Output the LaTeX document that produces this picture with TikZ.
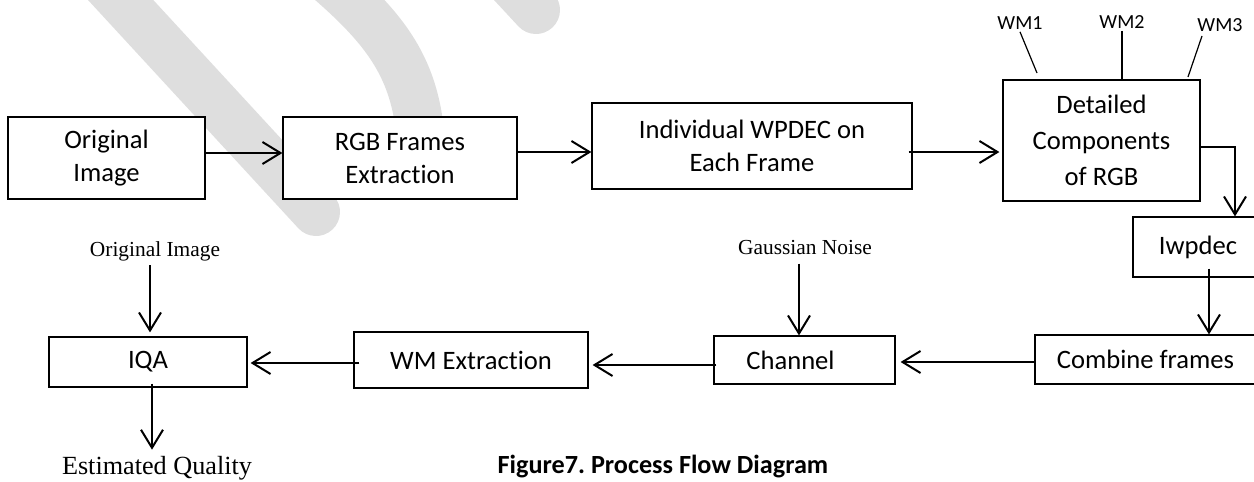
\documentclass[tikz,border=0pt]{standalone}
\usepackage{fontspec}
\setmainfont{Carlito}[Ligatures=CommonOff]
\newfontfamily\tnr{Liberation Serif}
\usetikzlibrary{arrows.meta}
\definecolor{wmgray}{RGB}{222,222,222}
\frenchspacing
\begin{document}
\begin{tikzpicture}[x=0.5pt,y=-0.5pt,
  box/.style={draw, line width=0.6pt, fill=white, inner sep=0pt, align=center,
    font=\fontsize{13.3}{16.5}\selectfont},
  arr/.style={line width=1pt, -{Straight Barb[length=9pt,width=11pt,line width=1pt]}},
  wmline/.style={line width=0.6pt},
  wmlab/.style={inner sep=0pt, font=\fontsize{10}{12}\selectfont},
  serif/.style={inner sep=0pt, font=\tnr\fontsize{10.7}{13}\selectfont},
  stripe/.style={draw=wmgray, line width=24pt, line cap=round}]
\useasboundingbox (0,0) rectangle (1254,482);
\begin{scope}
\clip (0,0) rectangle (1254,482);
% background watermark stripes
\draw[stripe] (93,-30) -- (316,212);
\draw[stripe] (305,-40) .. controls (390,30) and (422,70) .. (422,170);
\draw[stripe] (485,-45) -- (536,10);

% boxes
\node[box, minimum width=98.5pt, minimum height=41pt] (orig) at (106.5,158) {Original\\Image};
\node[box, minimum width=117pt, minimum height=41pt] (rgb) at (400,158) {RGB Frames\\Extraction};
\node[box, minimum width=160pt, minimum height=43pt] (wpd) at (752,146) {Individual WPDEC on\\Each Frame};
\node[box, minimum width=98.5pt, minimum height=60.5pt, font=\fontsize{13.3}{18}\selectfont] (det) at (1101.5,140.5) {Detailed\\Components\\of RGB};
\node[box, minimum width=65pt, minimum height=30pt] (iwp) at (1198,247) {Iwpdec};
\node[box, minimum width=110.5pt, minimum height=24.5pt] (comb) at (1145.5,359.5) {Combine frames};
\node[box, minimum width=90.5pt, minimum height=24pt] (ch) at (804.5,360) {\hspace*{-14pt}Channel};
\node[box, minimum width=117pt, minimum height=28pt] (wme) at (471,360) {WM Extraction};
\node[box, minimum width=99pt, minimum height=25pt] (iqa) at (148,362) {IQA};

% free labels
\node[wmlab] (wm1) at (1020,23) {WM1};
\node[wmlab] (wm2) at (1122,22) {WM2};
\node[wmlab] (wm3) at (1220,25) {WM3};
\node[serif] (oimg) at (155,251) {Original Image};
\node[serif] (gn) at (805,248) {Gaussian Noise};
\node[inner sep=0pt, font=\tnr\fontsize{13.1}{15}\selectfont] (eq) at (157,468) {Estimated Quality};
\node[inner sep=0pt, font=\bfseries\fontsize{13.1}{15}\selectfont] (cap) at (663,467) {Figure7. Process Flow Diagram};

\coordinate (w1e) at (1037,73);
\coordinate (w3e) at (1188,77);

% WM lines
\draw[wmline] (wm1.south) ++(0,2) -- (w1e);
\draw[wmline] (wm2.south -| 1122,0) ++(0,2) -- (det.north -| 1122,0);
\draw[wmline] (wm3.south -| 1202,0) ++(0,4) -- (w3e);

% arrows
\draw[arr] (orig.east |- 0,153) -- (rgb.west |- 0,153);
\draw[arr] (rgb.east |- 0,152) -- (wpd.west |- 0,152);
\draw[arr, shorten <=-2pt, shorten >=1.5pt] (wpd.east |- 0,152) -- (det.west |- 0,152);
\draw[arr] (det.east |- 0,147) -| (1235,0 |- iwp.north);
\draw[arr, shorten <=-4.5pt] (iwp.south -| 1209,0) -- (comb.north -| 1209,0);
\draw[arr, shorten >=2.5pt] (comb.west |- 0,362) -- (ch.east |- 0,362);
\draw[arr, shorten <=-1.5pt, shorten >=2pt] (ch.west |- 0,365) -- (wme.east |- 0,365);
\draw[arr, shorten <=-3pt, shorten >=1.5pt] (wme.west |- 0,363) -- (iqa.east |- 0,363);
\draw[arr, shorten <=2pt, shorten >=2pt] (oimg.south -| 150,0) -- (iqa.north -| 150,0);
\draw[arr, shorten <=-2pt, shorten >=3pt] (iqa.south -| 152,0) -- (eq.north -| 152,0);
\draw[arr, shorten <=4pt] (gn.south -| 799,0) -- (ch.north -| 799,0);
\end{scope}
\end{tikzpicture}
\end{document}
